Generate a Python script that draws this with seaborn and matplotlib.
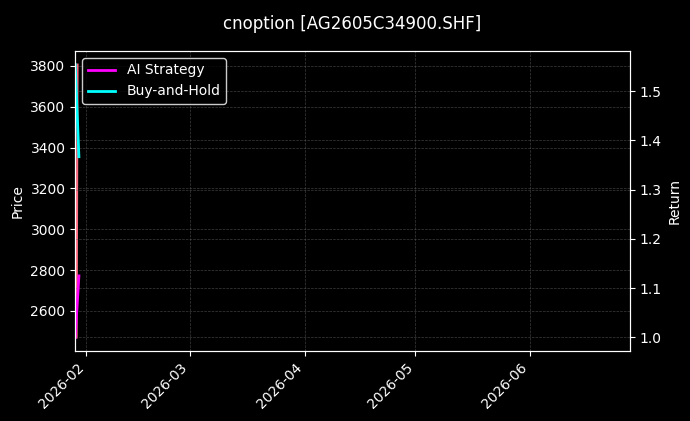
import matplotlib
matplotlib.use("Agg")
import matplotlib.pyplot as plt
import matplotlib.dates as mdates
import numpy as np
import pandas as pd
import seaborn as sns

# Values
price_times = pd.to_datetime(["2026-01-29 09:00", "2026-01-29 11:00", "2026-01-29 13:00", "2026-01-29 15:00"])
price_values = [2470, 2900, 3400, 3806]

return_dates = pd.to_datetime(["2026-01-29", "2026-01-30"])
ai_strategy = [1.000, 1.125]
buy_and_hold = [1.554, 1.367]

x_start = pd.Timestamp("2026-01-29")
x_end = pd.Timestamp("2026-06-28")

title = "cnoption [AG2605C34900.SHF]"

plt.style.use("dark_background")
plt.rcParams["font.family"] = ["DejaVu Sans"]

fig, ax = plt.subplots(figsize=(6.9, 4.21), dpi=100)
fig.patch.set_facecolor("black")
ax.set_facecolor("black")

# price on the left axis
sns.lineplot(x=price_times, y=price_values, ax=ax, color="#ff6b81", linewidth=1.5, legend=False)
ax.set_ylabel("Price", color="white")
ax.grid(True, color="#666666", linestyle="--", linewidth=0.5, alpha=0.6)

# returns on the right axis
ax2 = ax.twinx()
sns.lineplot(x=return_dates, y=ai_strategy, ax=ax2, color="#ff00ff", linewidth=2, label="AI Strategy")
sns.lineplot(x=return_dates, y=buy_and_hold, ax=ax2, color="#00ffff", linewidth=2, label="Buy-and-Hold")
ax2.set_ylabel("Return", color="white")
ax2.grid(True, color="#666666", linestyle="--", linewidth=0.5, alpha=0.6)

ax.set_xlim(x_start, x_end)
ax.xaxis.set_major_locator(mdates.MonthLocator())
ax.xaxis.set_major_formatter(mdates.DateFormatter("%Y-%m"))
plt.setp(ax.get_xticklabels(), rotation=45, ha="right")
ax.set_xlabel("")

for a in (ax, ax2):
    for s in a.spines.values():
        s.set_color("white")
    a.tick_params(colors="white", labelsize=10)

leg = ax2.legend(loc="upper left", facecolor="black", edgecolor="white", framealpha=0.8, fontsize=10)
for t in leg.get_texts():
    t.set_color("white")

ax.set_title(title, color="white", fontsize=12, pad=16)

fig.subplots_adjust(left=0.109, right=0.913, top=0.879, bottom=0.166)
fig.savefig("out.png", dpi=100, facecolor="black")
